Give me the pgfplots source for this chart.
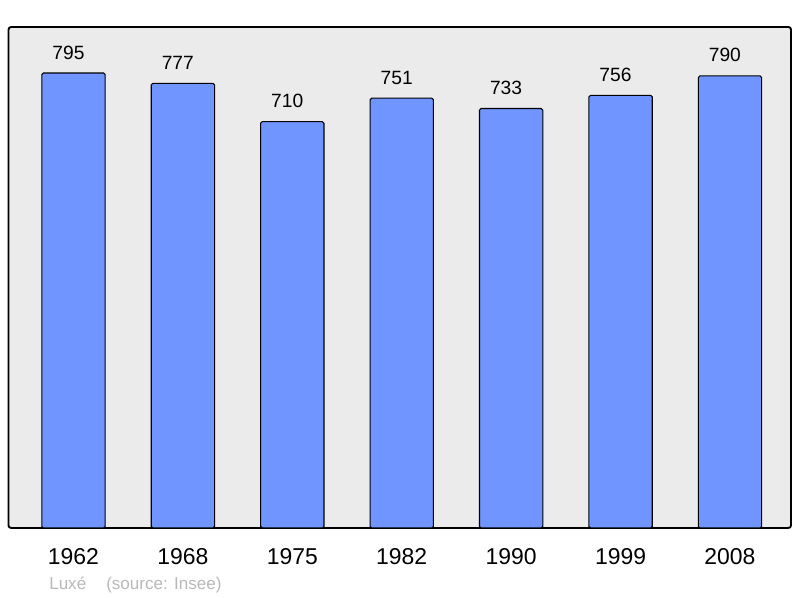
\documentclass[border=0pt]{standalone}
\usepackage{pgfplots}
\pgfplotsset{compat=1.18}
\usepackage{fontspec}
\setmainfont{Liberation Sans}
\definecolor{barblue}{HTML}{7095FF}
\definecolor{bggray}{HTML}{EBEBEB}
\definecolor{srcgray}{HTML}{B8B8B8}
\begin{document}
\begin{tikzpicture}
\useasboundingbox (0,0) rectangle (600pt,448.5pt);
\begin{axis}[
  at={(6.375pt,52.5pt)}, anchor=south west,
  scale only axis,
  width=586.9pt, height=375.75pt,
  xmin=-0.594, xmax=6.558,
  ymin=0, ymax=875.4,
  axis background/.style={fill=bggray},
  axis line style={line width=1.4pt, rounded corners=2pt},
  ytick=\empty,
  xtick=data,
  xticklabels={1962,1968,1975,1982,1990,1999,2008},
  major tick length=0pt,
  xticklabel style={font=\fontsize{17.2}{20}\selectfont, anchor=base, inner sep=0pt, yshift=-27.75pt},
  ybar, bar width=47.5pt,
  nodes near coords,
  nodes near coords style={font=\fontsize{14.4}{16}\selectfont, anchor=base, inner sep=0pt, yshift=10.5pt, xshift=-3.8pt, text=black},
  /pgf/number format/assume math mode=true,
  clip=false,
]
\addplot[fill=barblue, draw=black, line width=0.8pt, rounded corners=1.2pt] coordinates {
  (0,795) (1,777) (2,710) (3,751) (4,733) (5,756) (6,790)
};
\end{axis}
\node[anchor=base west, inner sep=0pt, text=srcgray, font=\fontsize{12.8}{15}\selectfont] at (36.75pt,6pt) {Luxé};
\node[anchor=base west, inner sep=0pt, text=srcgray, font=\fontsize{12.8}{15}\selectfont] at (79.5pt,6pt) {(source: Insee)};
\end{tikzpicture}
\end{document}
